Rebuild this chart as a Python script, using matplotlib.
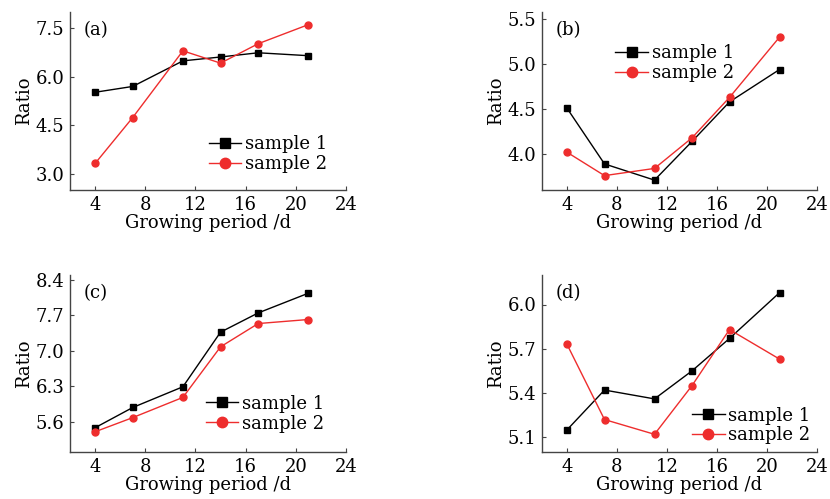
import matplotlib.pyplot as plt

plt.rcParams['font.family'] = ['DejaVu Serif']
plt.rcParams['mathtext.fontset'] = 'dejavuserif'

days = [4, 7, 11, 14, 17, 21]

# ratio values per panel, two samples each
a_s1 = [5.52, 5.70, 6.49, 6.61, 6.74, 6.65]
a_s2 = [3.32, 4.74, 6.80, 6.42, 7.02, 7.61]
b_s1 = [4.51, 3.89, 3.71, 4.14, 4.58, 4.94]
b_s2 = [4.02, 3.76, 3.84, 4.18, 4.63, 5.30]
c_s1 = [5.48, 5.88, 6.29, 7.37, 7.75, 8.14]
c_s2 = [5.40, 5.68, 6.08, 7.08, 7.54, 7.62]
d_s1 = [5.15, 5.42, 5.36, 5.55, 5.77, 6.08]
d_s2 = [5.73, 5.22, 5.12, 5.45, 5.83, 5.63]

panels = [
    ('(a)', a_s1, a_s2, (2.5, 8.0), [3.0, 4.5, 6.0, 7.5], (0.477, 0.347)),
    ('(b)', b_s1, b_s2, (3.6, 5.58), [4.0, 4.5, 5.0, 5.5], (0.241, 0.86)),
    ('(c)', c_s1, c_s2, (5.0, 8.5), [5.6, 6.3, 7.0, 7.7, 8.4], (0.466, 0.364)),
    ('(d)', d_s1, d_s2, (5.0, 6.2), [5.1, 5.4, 5.7, 6.0], (0.52, 0.297)),
]
x_ticks = [4, 8, 12, 16, 20, 24]

W, H = 830, 499
# axes boxes in pixels: left, top, right, bottom
boxes = [(70, 12, 346, 190), (542, 12, 817, 190),
         (70, 275, 346, 452), (542, 275, 817, 452)]

fig = plt.figure(figsize=(8.3, 4.99), dpi=100)
red = '#ee2d2d'

for (tag, s1, s2, ylim, yticks, legpos), (l, t, r, b) in zip(panels, boxes):
    ax = fig.add_axes([l / W, 1 - b / H, (r - l) / W, (b - t) / H])
    ax.plot(days, s1, color='black', marker='s', markersize=4.5, linewidth=1.0, label='sample 1')
    ax.plot(days, s2, color=red, marker='o', markersize=5, linewidth=1.0, label='sample 2')
    ax.set_xlim(2, 24)
    ax.set_ylim(*ylim)
    ax.set_xticks(x_ticks)
    ax.set_yticks(yticks)
    ax.set_yticklabels([f'{v:.1f}' for v in yticks])
    for side in ('top', 'right'):
        ax.spines[side].set_visible(False)
    for side in ('left', 'bottom'):
        ax.spines[side].set_color('#444444')
        ax.spines[side].set_linewidth(1.0)
    ax.tick_params(direction='in', length=3, width=0.8, color='#444444', labelsize=13, pad=4)
    ax.set_xlabel('Growing period /d', fontsize=13, labelpad=0)
    ax.set_ylabel('Ratio', fontsize=13, labelpad=2)
    ax.text(0.05, 0.9, tag, transform=ax.transAxes, fontsize=13, va='center', ha='left')
    ax.legend(loc='upper left', bbox_to_anchor=legpos, frameon=False, fontsize=13,
              markerscale=1.5, handlelength=1.8, handletextpad=0.2, labelspacing=0.1,
              borderaxespad=0)

fig.savefig('out.png', dpi=100)
